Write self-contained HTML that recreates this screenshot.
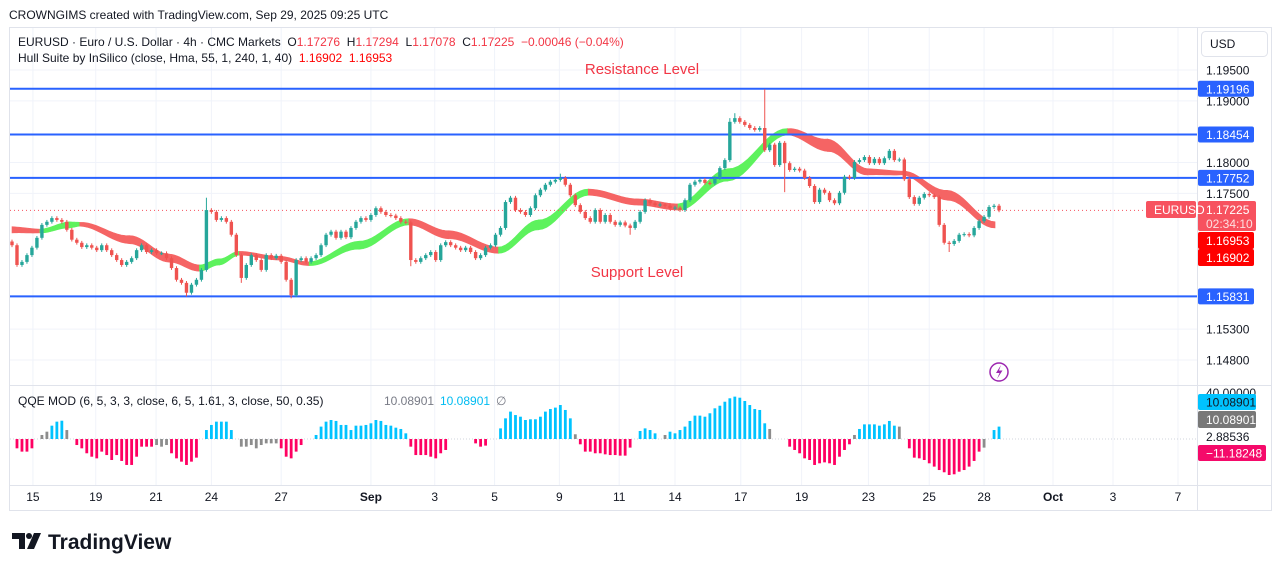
<!DOCTYPE html>
<html><head><meta charset="utf-8"><style>
html,body{margin:0;padding:0;background:#fff;width:1281px;height:571px;overflow:hidden}
svg{display:block;font-family:"Liberation Sans",sans-serif}
</style></head><body>
<svg id="c" width="1281" height="571" viewBox="0 0 1281 571">
<text x="9" y="19" font-size="12" fill="#131722">CROWNGIMS created with TradingView.com, Sep 29, 2025 09:25 UTC</text>
<rect x="9.5" y="27.5" width="1262" height="483" fill="#fff" stroke="#e0e3eb"/>
<g id="grid"></g>
<line x1="1197.5" y1="28" x2="1197.5" y2="510" stroke="#e0e3eb"/>
<line x1="10" y1="385.5" x2="1271" y2="385.5" stroke="#e0e3eb"/>
<line x1="10" y1="485.5" x2="1271" y2="485.5" stroke="#e0e3eb"/>
<g id="hull"></g>
<g id="levels"></g>
<g id="candles"></g>
<g id="qqe"></g>
<g id="axis"></g>
<text x="18" y="46" font-size="12" fill="#131722" xml:space="preserve">EURUSD · Euro / U.S. Dollar · 4h · CMC Markets  O<tspan fill="#f23645">1.17276</tspan>  H<tspan fill="#f23645">1.17294</tspan>  L<tspan fill="#f23645">1.17078</tspan>  C<tspan fill="#f23645">1.17225</tspan>  <tspan fill="#f23645">−0.00046 (−0.04%)</tspan></text>
<text x="18" y="62" font-size="12" fill="#131722" xml:space="preserve">Hull Suite by InSilico (close, Hma, 55, 1, 240, 1, 40)  <tspan fill="#ff0000">1.16902  1.16953</tspan></text>
<text x="642" y="74" font-size="15" fill="#f23645" text-anchor="middle">Resistance Level</text>
<text x="637" y="277" font-size="15" fill="#f23645" text-anchor="middle">Support Level</text>
<text x="18" y="405" font-size="12" fill="#131722">QQE MOD (6, 5, 3, 3, close, 6, 5, 1.61, 3, close, 50, 0.35)</text>
<text x="384" y="405" font-size="12" fill="#787b86">10.08901</text>
<text x="440" y="405" font-size="12" fill="#00bcf2">10.08901</text>
<text x="496" y="405" font-size="12" fill="#787b86">∅</text>
<rect x="1201.5" y="31.5" width="66" height="25" rx="4" fill="#fff" stroke="#e0e3eb"/>
<text x="1210" y="48" font-size="12" fill="#131722">USD</text>
<g><circle cx="999" cy="372" r="9" fill="#fff" stroke="#9c27b0" stroke-width="1.5"/><path d="M1001 365 L996 373 L999.5 373 L997 379 L1002.5 370.5 L999 370.5 Z" fill="#9c27b0"/></g>
<g><path d="M12 533 H25 V549 H19 V539 H12 Z" fill="#131722"/><circle cx="29" cy="536" r="3" fill="#131722"/><path d="M34 533 H41 L34 549 H27 Z" fill="#131722"/></g>
<text x="48" y="549" font-size="21" font-weight="bold" fill="#131722">TradingView</text>
</svg>
<script>
const closes=[1.1666,1.1634,1.1639,1.1650,1.1662,1.1678,1.1699,1.1704,1.1710,1.1707,1.1704,1.1691,1.1675,1.1670,1.1663,1.1666,1.1662,1.1658,1.1666,1.1658,
1.1650,1.1642,1.1634,1.1639,1.1645,1.1658,1.1666,1.1655,1.1658,1.1653,1.1653,1.1645,1.1629,1.1610,1.1605,1.1589,1.1602,1.1610,1.1626,1.1723,
1.1720,1.1707,1.1710,1.1704,1.1683,1.1650,1.1613,1.1634,1.1650,1.1642,1.1626,1.1650,1.1645,1.1649,1.1639,1.1610,1.1585,1.1642,1.1645,1.1639,
1.1645,1.1650,1.1666,1.1683,1.1688,1.1678,1.1688,1.1679,1.1694,1.1704,1.1710,1.1707,1.1715,1.1726,1.1720,1.1715,1.1714,1.1710,1.1704,1.1703,
1.1642,1.1639,1.1645,1.1650,1.1655,1.1642,1.1666,1.1671,1.1666,1.1662,1.1658,1.1662,1.1655,1.1645,1.1650,1.1662,1.1666,1.1683,1.1694,1.1736,
1.1743,1.1723,1.1720,1.1715,1.1726,1.1747,1.1756,1.1764,1.1769,1.1772,1.1775,1.1764,1.1747,1.1731,1.1720,1.1710,1.1704,1.1723,1.1704,1.1715,
1.1704,1.1699,1.1703,1.1698,1.1694,1.1704,1.1720,1.1739,1.1734,1.1731,1.1732,1.1730,1.1726,1.1727,1.1723,1.1739,1.1764,1.1769,1.1772,1.1767,
1.1766,1.1775,1.1791,1.1804,1.1866,1.1872,1.1866,1.1861,1.1856,1.1853,1.1856,1.1820,1.1829,1.1796,1.1832,1.1799,1.1788,1.1790,1.1787,1.1775,
1.1762,1.1736,1.1756,1.1751,1.1739,1.1734,1.1751,1.1777,1.1775,1.1801,1.1804,1.1809,1.1799,1.1806,1.1799,1.1807,1.1819,1.1804,1.1805,1.1773,
1.1744,1.1733,1.1743,1.1749,1.1747,1.1744,1.1699,1.1670,1.1668,1.1673,1.1683,1.1684,1.1682,1.1694,1.1705,1.1712,1.1728,1.1730,1.17225];
const firstOpen=1.1672;
const highOverrides={39:1.1743,110:1.1782,144:1.1872,145:1.1880,151:1.1919};
const lowOverrides={35:1.1583,46:1.1605,56:1.1580,80:1.1632,124:1.1683,155:1.1752,188:1.1655};
const hullIdx=[0,5.6,11.6,13.6,23.6,31.6,37.6,41.6,45.6,53.6,59.6,69.6,79.6,87.6,97.6,105.6,115.6,125.6,133.6,143.6,155.6,163.6,171.6,178.6,187.6,197.2];
const hullMid=[1.1691,1.1689,1.1699,1.1700,1.1675,1.1645,1.1629,1.1639,1.1653,1.1645,1.1636,1.1666,1.1704,1.1683,1.1658,1.1699,1.1752,1.1736,1.1728,1.1780,1.1850,1.1828,1.1785,1.1783,1.1747,1.1699];
const hullSpread=[0.0005,0.0003,0.0005,0.0003,0.00065,0.00065,0.0005,0.0005,0.0003,0.0003,0.0003,0.00065,0.0005,0.00065,0.0005,0.0008,0.0005,0.0005,0.0005,0.001,0.0005,0.001,0.0005,0.0003,0.0008,0.0005];
const qqeValues=[0,-7.9,-10.7,-10.7,-7.9,0,3.4,6.2,11.3,14.7,15.5,7.6,0,-5.1,-7.9,-12.1,-15,-16.4,-10.7,-13.6,
-17.8,-13.6,-18.6,-22,-22,-15,-6.5,-6.5,-6.5,-5.1,-6.5,-5.1,-12.1,-16.4,-19.2,-22,-19.2,-15.8,0,7.6,
11.9,14.7,14.7,14.7,7.6,0,-6.5,-6.5,-5.1,-7.9,-5.1,-3.7,-3.7,-3.7,-7.9,-15,-16.4,-10.7,-5.1,0,
0,3.4,10.5,14.7,16.1,15.3,11.9,11.9,7.6,11.3,11.3,11.9,13.3,16.1,15.3,11.9,11.3,9.6,8.5,4.8,
-6.5,-13.6,-13.6,-13.6,-15,-16.4,-12.1,-9.3,0,0,0,0,0,-3.7,-6.5,-5.6,0,0,9,17.5,
23.2,20.3,18.9,16.1,16.7,16.7,18.9,23.2,25.4,26.6,28.8,24.6,17.5,4,-4.5,-10.7,-10.7,-12.1,-12.1,-13,
-13.6,-13.6,-14.1,-14.1,-7.3,0,6.8,9,7.6,4.8,0,3.4,6.2,4.8,7.6,10.5,15.3,19.8,19.8,18.9,
21.8,26,28.2,31.6,34.5,35.9,35,32.2,28.8,25.4,24.6,13.3,8.5,0,0,0,-6.5,-9.3,-12.1,-16.4,
-17.8,-22,-20.6,-19.8,-20.6,-22,-15,-9.3,-4.5,3.4,8.5,12.4,12.4,12.4,11.3,12.4,15.3,11.3,10.5,0,
-7.9,-15.8,-16.4,-17.8,-20.6,-23.4,-26.3,-28.2,-30.5,-29.9,-27.7,-26.3,-23.4,-18.6,-10.7,-7.3,0,7.6,10.5];
const qqeNeutral=[6,7,11,29,30,31,46,47,48,49,50,51,52,53,113,131,152,169,178,195];
const priceTicks=["1.19500","1.19000","1.18000","1.17500","1.15300","1.14800"];
const priceTickVals=[1.195,1.19,1.18,1.175,1.153,1.148];
const levelVals=[1.19196,1.18454,1.17752,1.15831];
const dateLabels=["15","19","21","24","27","Sep","3","5","9","11","14","17","19","23","25","28","Oct","3","7"];
const dateBarIdx=[4.2,16.8,28.9,40,54,72,84.8,96.8,109.8,121.8,133,146.2,158.4,171.8,184,195];
const futureDateX=[1053,1113,1178];

const NS="http://www.w3.org/2000/svg";
function mk(tag,attrs,parent){const e=document.createElementNS(NS,tag);for(const k in attrs)e.setAttribute(k,attrs[k]);parent.appendChild(e);return e;}
const yP=p=>70+(1.195-p)*6170;
const xB=i=>12+i*4.985;
const yQ=v=>439-v*1.18;

const grid=document.getElementById('grid');
const axis=document.getElementById('axis');
dateLabels.forEach((lab,k)=>{
  const x=k<dateBarIdx.length?xB(dateBarIdx[k]):futureDateX[k-dateBarIdx.length];
  const gl=mk('line',{x1:x,y1:28,x2:x,y2:485,stroke:'#f0f3fa'},grid);
  
  
  const t=mk('text',{x:x,y:501,'font-size':12,fill:'#131722','text-anchor':'middle'},axis);
  if(lab==='Sep'||lab==='Oct')t.setAttribute('font-weight','bold');
  t.textContent=lab;
  
  
});
priceTickVals.forEach((v,k)=>{
  const y=yP(v);
  const gl=mk('line',{x1:10,y1:y,x2:1197,y2:y,stroke:'#f0f3fa'},grid);
  
  
  const t=mk('text',{x:1206,y:y+4.5,'font-size':12,fill:'#131722'},axis);
  t.textContent=priceTicks[k];
  
  
});
const zl=mk('line',{x1:10,y1:yQ(0),x2:1197,y2:yQ(0),stroke:'#d1d4dc','stroke-dasharray':'1 2'},grid);



const hull=document.getElementById('hull');
for(let s=0;s<hullIdx.length-1;s++){
  const pts1=[],pts2=[];
  for(let k=0;k<=12;k++){
    const t=k/12,f=(1-Math.cos(Math.PI*t))/2;
    const i=hullIdx[s]+(hullIdx[s+1]-hullIdx[s])*t;
    const m=hullMid[s]+(hullMid[s+1]-hullMid[s])*f;
    const sp=hullSpread[s]+(hullSpread[s+1]-hullSpread[s])*t;
    pts1.push(xB(i)+','+yP(m+sp));pts2.unshift(xB(i)+','+yP(m-sp));
  }
  const up=hullMid[s+1]>hullMid[s];
  const pg=mk('polygon',{points:pts1.concat(pts2).join(' '),fill:up?'#5df25d':'#f56464',stroke:up?'#5df25d':'#f56464','stroke-width':0.6},hull);
  
  
}

const levels=document.getElementById('levels');
levelVals.forEach(v=>{
  const l=mk('line',{x1:10,y1:yP(v),x2:1197,y2:yP(v),stroke:'#2962ff','stroke-width':2},levels);
  
  
});
const last=closes[closes.length-1];
const cl=mk('line',{x1:10,y1:yP(last),x2:1146,y2:yP(last),stroke:'#f7525f','stroke-dasharray':'1 3'},levels);



const cg=document.getElementById('candles');
closes.forEach((c,i)=>{
  const o=i===0?firstOpen:closes[i-1];
  const hi=(i in highOverrides)?highOverrides[i]:Math.max(o,c)+0.0003;
  const lo=(i in lowOverrides)?lowOverrides[i]:Math.min(o,c)-0.0003;
  const col=c>=o?'#26a69a':'#ef5350';
  const x=xB(i);
  const g=mk('g',{},cg);
  
  
  mk('line',{x1:x,y1:yP(hi),x2:x,y2:yP(lo),stroke:col,'stroke-width':1},g);
  const top=yP(Math.max(o,c)),bot=yP(Math.min(o,c));
  mk('rect',{x:x-1.7,y:top,width:3.4,height:Math.max(1,bot-top),fill:col},g);
});

const qg=document.getElementById('qqe');
qqeValues.forEach((v,i)=>{
  if(v===0)return;
  const col=qqeNeutral.includes(i)?'#8c8c8c':(v>0?'#00c3ff':'#ff0062');
  const y0=yQ(0),y1=yQ(v);
  const r=mk('rect',{x:xB(i)-1.4,y:Math.min(y0,y1),width:2.8,height:Math.abs(y1-y0),fill:col},qg);
  
  
});

function badge(y,h,w,bg,fg,txt,name,x){
  const g=mk('g',{},axis);
  
  
  mk('rect',{x:x||1198,y:y,width:w,height:h,rx:2,fill:bg},g);
  const t=mk('text',{x:(x||1198)+8,y:y+h/2+4.5,'font-size':12,fill:fg},g);
  t.textContent=txt;
  return g;
}
levelVals.forEach(v=>badge(yP(v)-8,16,56,'#2962ff','#fff',v.toFixed(5),'level-price-badge'));
badge(201,30,58,'#f7525f','#fff','','last-price-badge');
const lp=mk('text',{x:1206,y:214,'font-size':12,fill:'#fff'},axis);lp.textContent='1.17225';


const cd=mk('text',{x:1206,y:228,'font-size':12,fill:'#fde0e0'},axis);cd.textContent='02:34:10';


badge(232,17,56,'#ff0000','#fff','1.16953','hull-badge-1');
badge(249,17,56,'#ff0000','#fff','1.16902','hull-badge-2');
badge(201,17,50,'#f7525f','#fff','EURUSD','symbol-badge',1146);
const q40=mk('text',{x:1206,y:397,'font-size':12,fill:'#131722'},axis);q40.textContent='40.00000';


badge(394,16,58,'#00c3ff','#131722','10.08901','qqe-blue-badge');
badge(411,17,58,'#787878','#fff','10.08901','qqe-gray-badge');
const q2=mk('text',{x:1206,y:441,'font-size':12,fill:'#131722'},axis);q2.textContent='2.88536';


badge(445,16,68,'#f50a6a','#fff','−11.18248','qqe-pink-badge');
</script>
</body></html>
